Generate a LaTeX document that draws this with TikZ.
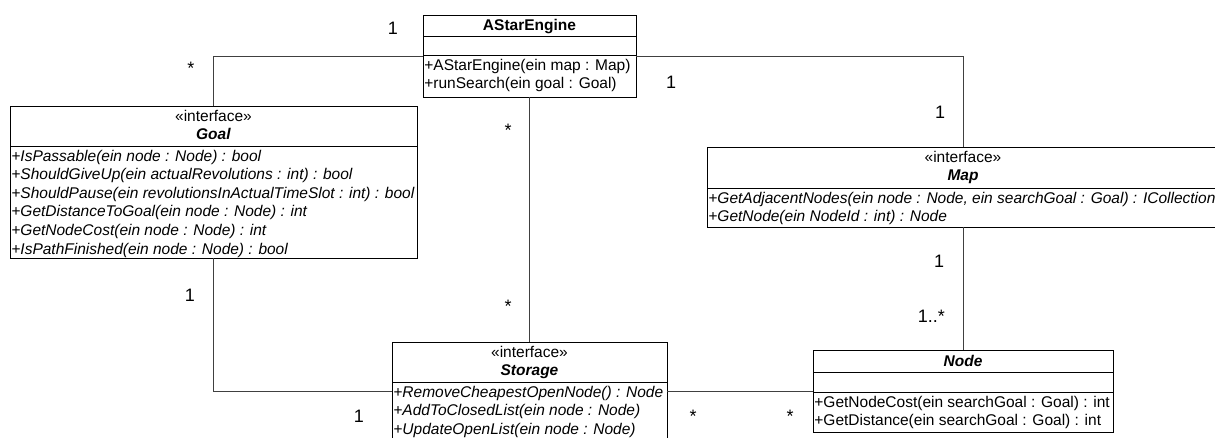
\documentclass[tikz,border=0pt]{standalone}
\usepackage{fontspec}
\setmainfont{Liberation Sans}
\begin{document}
\begin{tikzpicture}[x=1pt, y=-1pt]
\tikzset{
  classbox/.style={draw=black, line width=0.9pt, fill=white, inner sep=0pt, outer sep=0pt},
  member/.style={anchor=north west, inner xsep=1.2pt, inner ysep=0pt, align=left,
                 font=\fontsize{15.5}{18.6}\selectfont},
  imember/.style={member, font=\fontsize{15.5}{18.6}\selectfont\itshape},
  header/.style={anchor=north, inner sep=0pt, align=center,
                 font=\fontsize{15.5}{18.6}\selectfont},
  title/.style={anchor=base, inner sep=0pt, font=\fontsize{15.5}{18.6}\selectfont\bfseries},
  sepline/.style={draw=black, line width=0.9pt},
  assoc/.style={draw=black!75, line width=0.8pt},
  mult/.style={anchor=base, inner sep=0pt, font=\fontsize{18}{20}\selectfont},
}
\useasboundingbox (0,0) rectangle (1215,438);
\clip (0,0) rectangle (1215,438);

% class boxes
\node[classbox, minimum width=213pt, minimum height=82pt] (astar) at (529.5,56) {};
\node[classbox, minimum width=407pt, minimum height=152pt] (goal) at (213.5,182) {};
\node[classbox, minimum width=512pt, minimum height=80pt] (map) at (963,187) {};
\node[classbox, minimum width=275pt, minimum height=98pt] (storage) at (529.5,391) {};
\node[classbox, minimum width=300pt, minimum height=82pt] (node) at (963,391) {};

% associations
\draw[assoc] (astar.west) -| (goal.north);
\draw[assoc] (astar.east) -| (map.north);
\draw[assoc] (astar.south) -- (storage.north);
\draw[assoc] (map.south) -- (node.north);
\draw[assoc] (goal.south) |- (storage.west);
\draw[assoc] (storage.east) -- (node.west);

% AStarEngine
\draw[sepline] (astar.west |- 0,36) -- (astar.east |- 0,36);
\draw[sepline] (astar.west |- 0,55) -- (astar.east |- 0,55);
\node[title] (astarT) at (529.5,31) {AStarEngine};
\node[member] (astarM) at (423,55) {\rule{0pt}{15pt}+AStarEngine(ein map : Map)\\+runSearch(ein goal : Goal)};

% Goal
\draw[sepline] (goal.west |- 0,146) -- (goal.east |- 0,146);
\node[header] (goalH) at (213.5,106) {\rule{0pt}{15pt}«interface»\\\textbf{\textit{Goal}}};
\node[imember] (goalM) at (10,146) {\rule{0pt}{15pt}+IsPassable(ein node : Node) : bool\\
+ShouldGiveUp(ein actualRevolutions : int) : bool\\
+ShouldPause(ein revolutionsInActualTimeSlot : int) : bool\\
+GetDistanceToGoal(ein node : Node) : int\\
+GetNodeCost(ein node : Node) : int\\
+IsPathFinished(ein node : Node) : bool};

% Map
\draw[sepline] (map.west |- 0,188) -- (map.east |- 0,188);
\node[header] (mapH) at (963,147) {\rule{0pt}{15pt}«interface»\\\textbf{\textit{Map}}};
\node[imember] (mapM) at (707,188) {\rule{0pt}{15pt}+GetAdjacentNodes(ein node : Node, ein searchGoal : Goal) : ICollection\\
+GetNode(ein NodeId : int) : Node};

% Storage
\draw[sepline] (storage.west |- 0,382) -- (storage.east |- 0,382);
\node[header] (storH) at (529.5,342) {\rule{0pt}{15pt}«interface»\\\textbf{\textit{Storage}}};
\node[imember] (storM) at (392,382) {\rule{0pt}{15pt}+RemoveCheapestOpenNode() : Node\\
+AddToClosedList(ein node : Node)\\
+UpdateOpenList(ein node : Node)};

% Node
\draw[sepline] (node.west |- 0,372) -- (node.east |- 0,372);
\draw[sepline] (node.west |- 0,392) -- (node.east |- 0,392);
\node[title] (nodeT) at (963,366.5) {\textit{Node}};
\node[member] (nodeM) at (813,392) {\rule{0pt}{15pt}+GetNodeCost(ein searchGoal : Goal) : int\\
+GetDistance(ein searchGoal : Goal) : int};

% multiplicities
\node[mult] (m1) at (393,34.5) {1};
\node[mult] (m2) at (191,74.5) {*};
\node[mult] (m3) at (671,88.5) {1};
\node[mult] (m4) at (508,137) {*};
\node[mult] (m5) at (940,118.5) {1};
\node[mult] (m6) at (939,267.5) {1};
\node[mult, anchor=base east] (m7) at (945,323) {1..*};
\node[mult] (m8) at (508,312.5) {*};
\node[mult] (m9) at (190,301.5) {1};
\node[mult] (m10) at (359,422) {1};
\node[mult] (m11) at (693,422) {*};
\node[mult] (m12) at (790,422) {*};
\end{tikzpicture}
\end{document}
